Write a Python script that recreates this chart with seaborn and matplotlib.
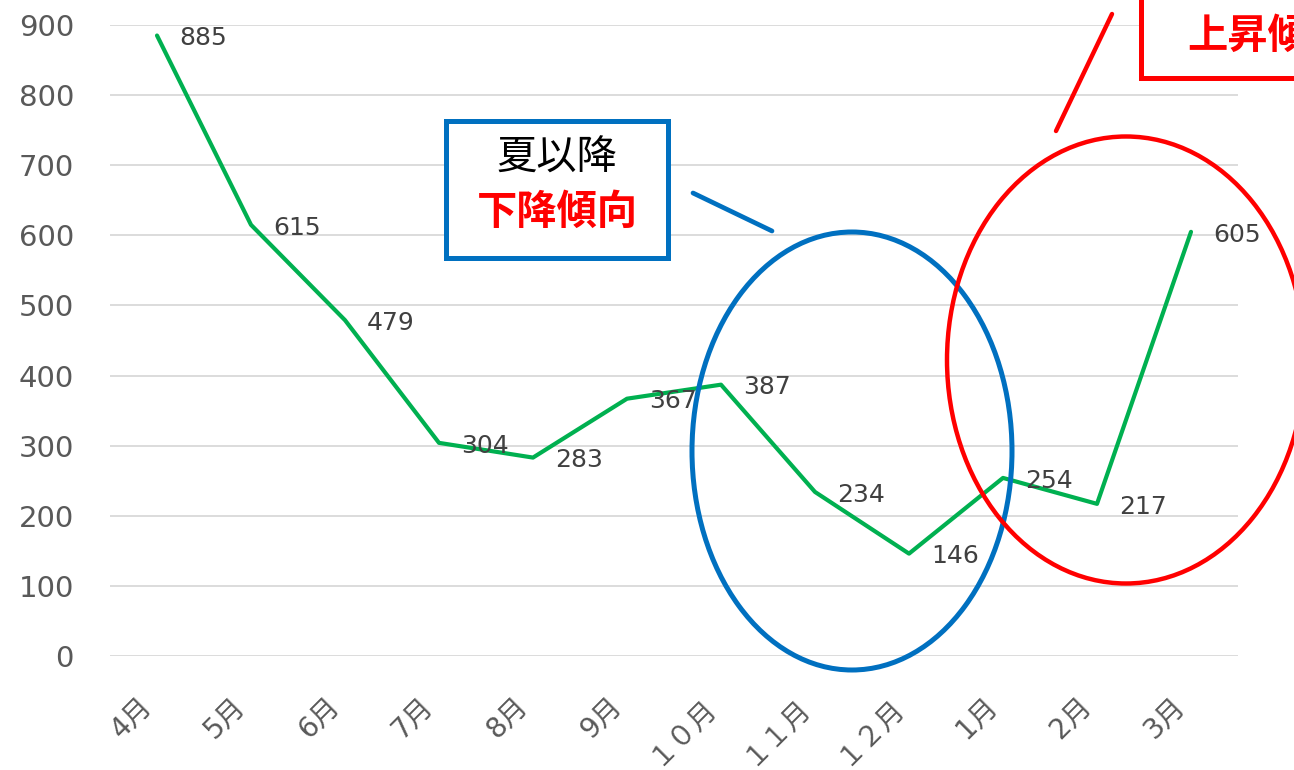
import matplotlib
matplotlib.use("Agg")
import matplotlib.pyplot as plt
import seaborn as sns
import numpy as np
from matplotlib.patches import Ellipse, Rectangle
from matplotlib.lines import Line2D

months = ["4月", "5月", "6月", "7月", "8月", "9月", "１０月", "１１月", "１２月", "1月", "2月", "3月"]
values = [885, 615, 479, 304, 283, 367, 387, 234, 146, 254, 217, 605]
yticks = [0, 100, 200, 300, 400, 500, 600, 700, 800, 900]

sns.set_style("white")
plt.rcParams['font.family'] = ['DejaVu Sans', 'Noto Sans CJK JP']
CJK = ['Noto Sans CJK JP', 'DejaVu Sans']

W, H = 1294, 770
fig = plt.figure(figsize=(W / 100, H / 100), dpi=100)
ax = fig.add_axes([110 / W, 1 - 656 / H, 1128 / W, (656 - 25) / H])

sns.lineplot(x=months, y=values, sort=False, ax=ax, color="#00B050", linewidth=3.0)

ax.set_xlim(-0.5, 11.5)
ax.set_ylim(0, 900)
ax.set_yticks(yticks)
ax.yaxis.grid(True, color="#D9D9D9", linewidth=1.3)
ax.xaxis.grid(False)
ax.set_axisbelow(True)
for s in ax.spines.values():
    s.set_visible(False)
ax.tick_params(axis="y", length=0, pad=26, labelsize=21, labelcolor="#595959")
ax.tick_params(axis="x", length=0, pad=26, labelsize=20, labelcolor="#595959")
ax.set_xticks(range(len(months)))
ax.set_xticklabels(months, rotation=45, ha="right", rotation_mode="default")
for lbl in ax.get_xticklabels():
    lbl.set_x(lbl.get_position()[0])
ax.set_xlabel("")
ax.set_ylabel("")

for i, v in enumerate(values):
    ax.annotate(str(v), (i, v), xytext=(16, -2), textcoords="offset points",
                va="center", ha="left", fontsize=18, color="#404040")

def P(x, y):
    return (x / W, 1 - y / H)

# Ellipses
blue = "#0070C0"
red = "#FF0000"
fig.patches.append(Ellipse(P(852, 451), 320 / W, 438 / H, transform=fig.transFigure,
                           fill=False, edgecolor=blue, linewidth=3.6))
fig.patches.append(Ellipse(P(1126, 360), 358 / W, 447 / H, transform=fig.transFigure,
                           fill=False, edgecolor=red, linewidth=3.2))

# Blue box
fig.patches.append(Rectangle(P(446, 258), (668 - 446) / W, (258 - 121) / H, transform=fig.transFigure,
                             facecolor="white", edgecolor=blue, linewidth=3.6))
fig.text(*P(557, 158), "夏以降", ha="center", va="center", fontsize=29, color="black", family=CJK)
fig.text(*P(557, 212), "下降傾向", ha="center", va="center", fontsize=29, color=red,
         fontweight="bold", family=CJK)
fig.lines.append(Line2D([693 / W, 772 / W], [1 - 193 / H, 1 - 231 / H], transform=fig.transFigure,
                        color=blue, linewidth=3.4))

# Red box
fig.patches.append(Rectangle(P(1141, 78), 300 / W, 120 / H, transform=fig.transFigure,
                             facecolor="white", edgecolor=red, linewidth=3.6))
fig.text(*P(1187, 36), "上昇傾向", ha="left", va="center", fontsize=29, color=red,
         fontweight="bold", family=CJK)
fig.lines.append(Line2D([1112 / W, 1056 / W], [1 - 14 / H, 1 - 131 / H], transform=fig.transFigure,
                        color=red, linewidth=3.2))

fig.savefig("out.png", dpi=100)
